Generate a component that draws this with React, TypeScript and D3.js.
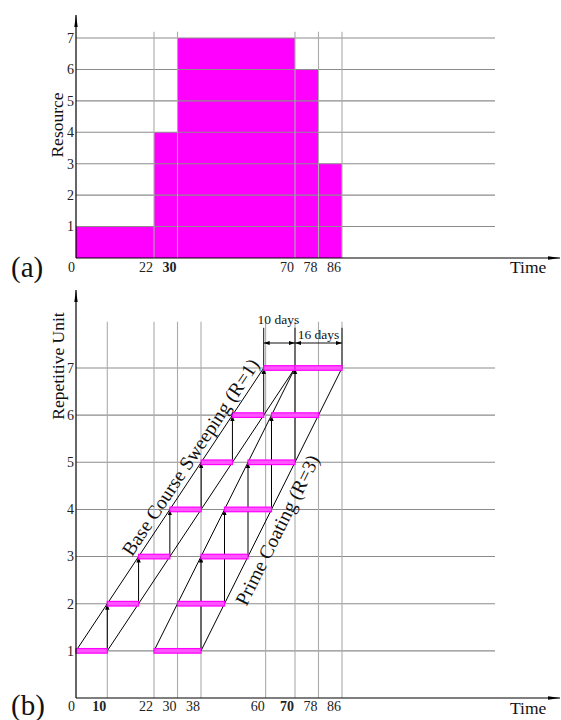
import React from "react";
import * as d3 from "d3";

// (a) resource histogram
const stepDays = [0, 22, 30, 70, 78, 86];
const resourceLevels = [1, 4, 7, 6, 3];
const resourceTicks = [1, 2, 3, 4, 5, 6, 7];
const timeTicksA = [0, 22, 30, 70, 78, 86];
const boldTicksA = [30];

// (b) repetitive schedule
const units = [1, 2, 3, 4, 5, 6, 7];
const baseStarts = [0, 10, 20, 30, 40, 50, 60];
const baseDuration = 10;
const primeStarts = [22, 30, 38, 46, 54, 62, 70];
const primeDuration = 16;
const primeJump = 2;
const timeTicksB = [0, 10, 22, 30, 38, 60, 70, 78, 86];
const boldTicksB = [10, 70];

const W = 561;
const H = 720;
const X0 = 76;
const GRID_END = 495;
const AXIS_END = 560;
const FONT = "'Liberation Serif', 'Times New Roman', serif";

const xBase = d3.scaleLinear().domain([0, 70]).range([X0, 295]);
const xTime = d3
  .scaleLinear()
  .domain([0, 10, 22, 86])
  .range([X0, xBase(10), 154, 342]);

const yA = d3.scaleLinear().domain([0, 7]).range([258, 38]);
const yB = d3.scaleLinear().domain([0, 7]).range([698, 368]);

const hGrid = "#8c8c8c";
const vGrid = "#ababab";
const pink = "#ff00ff";

// text laid along a line, t = fraction along it, off = offset normal to it
function LineLabel({ x1, y1, x2, y2, t, off, text }) {
  const ang = (Math.atan2(y2 - y1, x2 - x1) * 180) / Math.PI;
  const px = x1 + (x2 - x1) * t;
  const py = y1 + (y2 - y1) * t;
  return (
    <g transform={`translate(${px},${py}) rotate(${ang})`}>
      <text y={off} textAnchor="middle" fontSize={19.5} fill="#111">
        {text}
      </text>
    </g>
  );
}

const App = () => {
  const baseLeft = {
    x1: xBase(baseStarts[0]),
    y1: yB(units[0]),
    x2: xBase(baseStarts[6]),
    y2: yB(units[6]),
  };
  const baseRight = {
    x1: xBase(baseStarts[0] + baseDuration),
    y1: yB(units[0]),
    x2: xBase(baseStarts[6] + baseDuration),
    y2: yB(units[6]),
  };
  const primeLeft = {
    x1: xTime(primeStarts[0]),
    y1: yB(units[0]),
    x2: xTime(primeStarts[6]),
    y2: yB(units[6]),
  };
  const primeRight = {
    x1: xTime(primeStarts[0] + primeDuration),
    y1: yB(units[0]),
    x2: xTime(primeStarts[6] + primeDuration),
    y2: yB(units[6]),
  };

  const dimY = yB(7) - 25;
  const extTop = yB(7.98);
  const d1a = xBase(baseStarts[6]);
  const d1b = xBase(baseStarts[6] + baseDuration);
  const d2a = xTime(primeStarts[6]);
  const d2b = xTime(primeStarts[6] + primeDuration);

  return (
    <svg
      width={W}
      height={H}
      style={{ position: "absolute", left: 0, top: 0, background: "#fff" }}
      fontFamily={FONT}
    >
      <defs>
        <marker
          id="head"
          markerUnits="userSpaceOnUse"
          markerWidth={8}
          markerHeight={6}
          refX={6}
          refY={3}
          orient="auto"
        >
          <path d="M0,0.8 L6,3 L0,5.2 Z" fill="#000" />
        </marker>
        <marker
          id="dimhead"
          markerUnits="userSpaceOnUse"
          markerWidth={8}
          markerHeight={6}
          refX={6}
          refY={3}
          orient="auto-start-reverse"
        >
          <path d="M0,1 L6,3 L0,5 Z" fill="#000" />
        </marker>
        <marker
          id="axishead"
          markerUnits="userSpaceOnUse"
          markerWidth={14}
          markerHeight={6}
          refX={12}
          refY={3}
          orient="auto"
        >
          <path d="M0,1.3 L12,3 L0,4.7 Z" fill="#000" />
        </marker>
      </defs>

      {/* ---------- (a) ---------- */}
      <g>
        {resourceLevels.map((lv, i) => (
          <rect
            key={i}
            x={xTime(stepDays[i])}
            width={xTime(stepDays[i + 1]) - xTime(stepDays[i])}
            y={yA(lv)}
            height={yA(0) - yA(lv)}
            fill={pink}
          />
        ))}
        {resourceTicks.map((r) => (
          <line
            key={r}
            x1={X0}
            x2={GRID_END}
            y1={yA(r)}
            y2={yA(r)}
            stroke={hGrid}
            strokeWidth={1.1}
          />
        ))}
        {timeTicksA
          .filter((d) => d > 0)
          .map((d) => (
            <line
              key={d}
              x1={xTime(d)}
              x2={xTime(d)}
              y1={yA(7.2)}
              y2={yA(0)}
              stroke={vGrid}
              strokeWidth={1.1}
            />
          ))}
        <line
          x1={X0}
          x2={X0}
          y1={yA(0)}
          y2={15}
          stroke="#000"
          strokeWidth={1.2}
          markerEnd="url(#axishead)"
        />
        <line
          x1={X0}
          x2={AXIS_END}
          y1={yA(0)}
          y2={yA(0)}
          stroke="#000"
          strokeWidth={1.2}
          markerEnd="url(#axishead)"
        />
        {resourceTicks.map((r) => (
          <text
            key={r}
            x={X0 - 2}
            y={yA(r)}
            dy="0.35em"
            textAnchor="end"
            fontSize={14}
            fill="#222"
          >
            {r}
          </text>
        ))}
        {timeTicksA.map((d) => (
          <text
            key={d}
            x={xTime(d) - 1}
            y={yA(0) + 14}
            textAnchor="end"
            fontSize={14}
            fontWeight={boldTicksA.includes(d) ? "bold" : "normal"}
            fill="#222"
          >
            {d}
          </text>
        ))}
        <text
          transform={`translate(63,${(yA(0) + yA(7)) / 2 - 23}) rotate(-90)`}
          textAnchor="middle"
          fontSize={17.5}
          fill="#111"
        >
          Resource
        </text>
        <text x={510} y={yA(0) + 15} fontSize={17.5} fill="#111">
          Time
        </text>
        <text x={11} y={277} fontSize={29} fill="#111">
          (a)
        </text>
      </g>

      {/* ---------- (b) ---------- */}
      <g>
        {units.map((u) => (
          <line
            key={u}
            x1={X0}
            x2={GRID_END}
            y1={yB(u)}
            y2={yB(u)}
            stroke={hGrid}
            strokeWidth={1.1}
          />
        ))}
        {timeTicksB
          .filter((d) => d > 0)
          .map((d) => (
            <line
              key={d}
              x1={xTime(d)}
              x2={xTime(d)}
              y1={extTop}
              y2={yB(0)}
              stroke={vGrid}
              strokeWidth={1.1}
            />
          ))}

        {/* dimension extension lines */}
        {[d1a, d1b, d2b].map((x, i) => (
          <line
            key={i}
            x1={x}
            x2={x}
            y1={extTop + 6}
            y2={yB(7)}
            stroke="#111"
            strokeWidth={1}
          />
        ))}
        <line
          x1={d1a}
          x2={d1b}
          y1={dimY}
          y2={dimY}
          stroke="#111"
          strokeWidth={1}
          markerStart="url(#dimhead)"
          markerEnd="url(#dimhead)"
        />
        <line
          x1={d2a}
          x2={d2b}
          y1={dimY}
          y2={dimY}
          stroke="#111"
          strokeWidth={1}
          markerStart="url(#dimhead)"
          markerEnd="url(#dimhead)"
        />
        <text
          x={(d1a + d1b) / 2 - 1}
          y={yB(7) - 44}
          textAnchor="middle"
          fontSize={13.5}
          fill="#111"
        >
          10 days
        </text>
        <text
          x={(d2a + d2b) / 2}
          y={yB(7) - 29}
          textAnchor="middle"
          fontSize={13.5}
          fill="#111"
        >
          16 days
        </text>

        {/* diagonals */}
        {[baseLeft, baseRight, primeLeft, primeRight].map((l, i) => (
          <line key={i} {...l} stroke="#000" strokeWidth={1} />
        ))}

        {/* crew moves */}
        {units.slice(0, -1).map((u, i) => (
          <line
            key={"b" + u}
            x1={xBase(baseStarts[i] + baseDuration)}
            x2={xBase(baseStarts[i] + baseDuration)}
            y1={yB(u)}
            y2={yB(units[i + 1])}
            stroke="#000"
            strokeWidth={1}
            markerEnd="url(#head)"
          />
        ))}
        {units.slice(0, -primeJump).map((u, i) => (
          <line
            key={"p" + u}
            x1={xTime(primeStarts[i] + primeDuration)}
            x2={xTime(primeStarts[i] + primeDuration)}
            y1={yB(u)}
            y2={yB(units[i + primeJump])}
            stroke="#000"
            strokeWidth={1}
            markerEnd="url(#head)"
          />
        ))}

        {/* activity bars */}
        {units.map((u, i) => (
          <g key={u}>
            <rect
              x={xBase(baseStarts[i])}
              width={xBase(baseStarts[i] + baseDuration) - xBase(baseStarts[i])}
              y={yB(u) - 2.3}
              height={4.6}
              fill="#ff55ff"
              stroke={pink}
              strokeWidth={1.2}
            />
            <rect
              x={xTime(primeStarts[i])}
              width={
                xTime(primeStarts[i] + primeDuration) - xTime(primeStarts[i])
              }
              y={yB(u) - 2.3}
              height={4.6}
              fill="#ff55ff"
              stroke={pink}
              strokeWidth={1.2}
            />
          </g>
        ))}

        <LineLabel
          {...baseLeft}
          t={0.662}
          off={-5}
          text="Base Course Sweeping (R=1)"
        />
        <LineLabel
          {...primeRight}
          t={0.45}
          off={21}
          text="Prime Coating (R=3)"
        />

        <line
          x1={X0}
          x2={X0}
          y1={yB(0)}
          y2={290}
          stroke="#000"
          strokeWidth={1.2}
          markerEnd="url(#axishead)"
        />
        <line
          x1={X0}
          x2={AXIS_END}
          y1={yB(0)}
          y2={yB(0)}
          stroke="#000"
          strokeWidth={1.2}
          markerEnd="url(#axishead)"
        />
        {units.map((u) => (
          <text
            key={u}
            x={X0 - 2}
            y={yB(u)}
            dy="0.35em"
            textAnchor="end"
            fontSize={14}
            fill="#222"
          >
            {u}
          </text>
        ))}
        {timeTicksB.map((d) => (
          <text
            key={d}
            x={xTime(d) - 1}
            y={yB(0) + 13}
            textAnchor="end"
            fontSize={14}
            fontWeight={boldTicksB.includes(d) ? "bold" : "normal"}
            fill="#222"
          >
            {d}
          </text>
        ))}
        <text
          transform={`translate(64,${yB(7) - 2}) rotate(-90)`}
          textAnchor="middle"
          fontSize={17.5}
          fill="#111"
        >
          Repetitive Unit
        </text>
        <text x={510} y={yB(0) + 16} fontSize={17.5} fill="#111">
          Time
        </text>
        <text x={11} y={715} fontSize={29} fill="#111">
          (b)
        </text>
      </g>
    </svg>
  );
};

export default App;
